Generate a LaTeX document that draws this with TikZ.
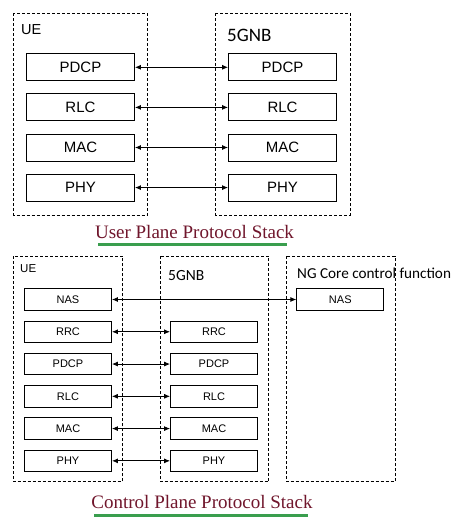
\documentclass[tikz,border=0pt]{standalone}
\usepackage{fontspec}
\setmainfont{Liberation Sans}
\newfontfamily\labelfont{Carlito}
\newfontfamily\titlefont{Liberation Serif}
\usepackage{tikz}
\usetikzlibrary{arrows.meta}
\definecolor{titlered}{RGB}{112,22,44}
\definecolor{linegreen}{RGB}{58,158,78}

\begin{document}
\begin{tikzpicture}[x=1pt, y=-1pt,
    frame/.style={draw, dash pattern=on 3pt off 2pt, line width=0.8pt},
    layer/.style={draw, line width=0.9pt, minimum width=108pt, minimum height=27pt, inner sep=0pt, font=\fontsize{15}{18}\selectfont},
    smalllayer/.style={layer, minimum width=87pt, minimum height=21.5pt, font=\fontsize{11}{13}\selectfont},
    link/.style={{Latex[length=6pt,width=5pt]}-{Latex[length=6pt,width=5pt]}, line width=0.8pt},
    stacktitle/.style={anchor=base, inner sep=0pt, text=titlered, font=\titlefont\fontsize{19}{22}\selectfont},
    underline/.style={draw=linegreen, line width=3pt}]
    \useasboundingbox (0,0) rectangle (456,529);

    % User plane: UE and 5GNB
    \draw[frame] (13.3,13.3) rectangle (147.3,215);
    \draw[frame] (215.7,13.3) rectangle (350,215);
    \node[anchor=west, inner sep=0pt, font=\fontsize{14.5}{17}\selectfont] (uelabel) at (21,30) {UE};
    \node[anchor=west, inner sep=0pt, font=\labelfont\fontsize{19}{22}\selectfont] (gnblabel) at (227,35.5) {5GNB};
    \foreach \name [count=\i from 0] in {PDCP,RLC,MAC,PHY} {
        \node[layer] (uue\i) at (80.5,{67.3+40.1*\i}) {\name};
        \node[layer] (ugnb\i) at (282.5,{67.3+40.1*\i}) {\name};
        \draw[link] (uue\i) -- (ugnb\i);
    }
    \node[stacktitle] (utitle) at (194.5,238) {User Plane Protocol Stack};
    \draw[underline] (98,244.5) -- (287,244.5);

    % Control plane: UE, 5GNB and NG core
    \draw[frame] (13.3,256) rectangle (122.3,481.7);
    \draw[frame] (160.3,256) rectangle (268.7,481.7);
    \draw[frame] (286.3,256) rectangle (395,481.7);
    \node[anchor=west, inner sep=0pt, font=\fontsize{11.5}{14}\selectfont] (cuelabel) at (20,269) {UE};
    \node[anchor=west, inner sep=0pt, font=\labelfont\fontsize{15.5}{18}\selectfont] (cgnblabel) at (168,276) {5GNB};
    \node[anchor=west, inner sep=0pt, font=\labelfont\fontsize{15.2}{18}\selectfont] (corelabel) at (297,273) {NG Core control function};
    \node[smalllayer] (cue0) at (68,299.5) {NAS};
    \node[smalllayer] (ccore) at (340.3,299.5) {NAS};
    \draw[link] (cue0) -- (ccore);
    \foreach \name [count=\i] in {RRC,PDCP,RLC,MAC,PHY} {
        \node[smalllayer] (cue\i) at (68,{299.5+32.27*\i}) {\name};
        \node[smalllayer] (cgnb\i) at (214,{299.5+32.27*\i}) {\name};
        \draw[link] (cue\i) -- (cgnb\i);
    }
    \node[stacktitle] (ctitle) at (202,508) {Control Plane Protocol Stack};
    \draw[underline] (94,515) -- (308,515);
\end{tikzpicture}
\end{document}
